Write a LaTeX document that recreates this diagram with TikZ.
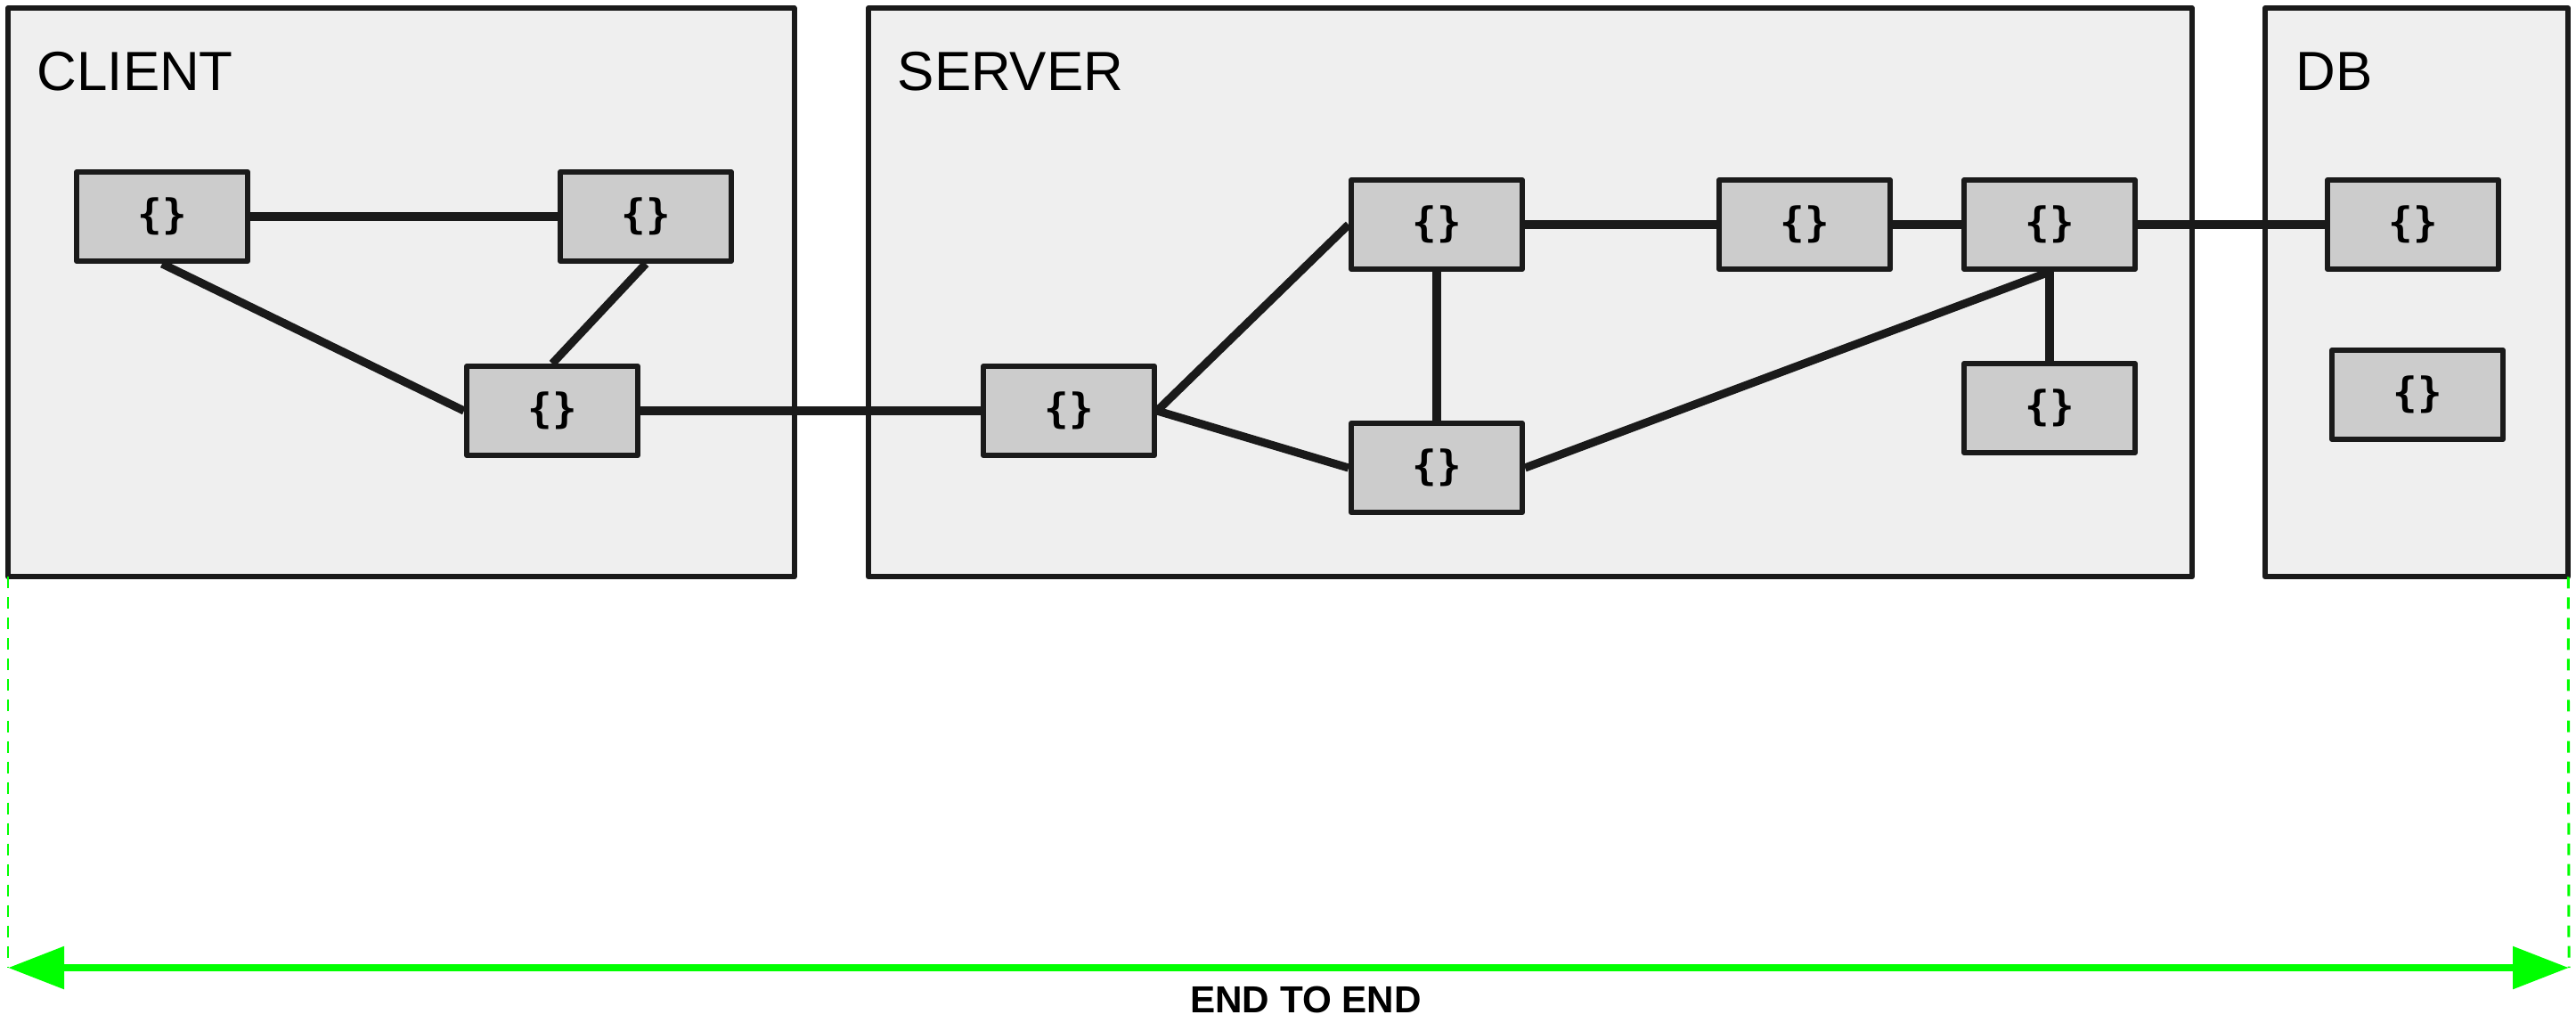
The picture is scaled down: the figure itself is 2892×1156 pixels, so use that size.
\documentclass[tikz,border=0pt]{standalone}
\usepackage{fontspec}
\setmainfont{Liberation Sans}
\setmonofont{DejaVu Sans Mono}
\usetikzlibrary{arrows.meta}

\definecolor{linec}{HTML}{1A1A1A}
\definecolor{zonefill}{HTML}{EFEFEF}
\definecolor{compfill}{HTML}{CCCCCC}
\definecolor{endgreen}{RGB}{0,255,0}

\begin{document}
\begin{tikzpicture}[x=0.01cm, y=-0.01cm,
  zone/.style={draw=linec, fill=zonefill, line width=1.7pt, line join=round,
    inner sep=0pt, outer sep=0pt, anchor=north west},
  comp/.style={draw=linec, fill=compfill, line width=1.7pt, line join=round,
    minimum width=1.92cm, minimum height=1.0cm, inner sep=0pt,
    font=\ttfamily\bfseries\fontsize{13}{13}\selectfont},
  link/.style={draw=linec, line width=2.6pt},
  zonelabel/.style={anchor=base west, inner sep=0pt,
    font=\fontsize{17.6}{18}\selectfont},
  guide/.style={draw=endgreen, line width=0.85pt, dash pattern=on 0.13cm off 0.10cm},
  span/.style={draw=endgreen, line width=2.5pt,
    {Triangle[length=0.63cm, width=0.46cm]}-{Triangle[length=0.63cm, width=0.46cm]}},
  spanlabel/.style={inner sep=0pt, font=\bfseries\fontsize{12}{12}\selectfont}]

\useasboundingbox (0,0) rectangle (2892,1156);

% tiers
\node[zone, minimum width=8.82cm, minimum height=6.38cm] (client) at (9,9) {};
\node[zone, minimum width=14.85cm, minimum height=6.38cm] (server) at (975,9) {};
\node[zone, minimum width=3.40cm, minimum height=6.38cm] (db) at (2543,9) {};

\node[zonelabel] (clientlbl) at (41,101) {CLIENT};
\node[zonelabel] (serverlbl) at (1007,101) {SERVER};
\node[zonelabel] (dblbl) at (2577,101) {DB};

% components
\node[comp] (c1) at (182,243) {\{\}};
\node[comp] (c2) at (725,243) {\{\}};
\node[comp] (c3) at (620,461) {\{\}};
\node[comp] (s1) at (1200,461) {\{\}};
\node[comp] (s2) at (1613,252) {\{\}};
\node[comp] (s3) at (1613,525) {\{\}};
\node[comp] (s4) at (2026,252) {\{\}};
\node[comp] (s5) at (2301,252) {\{\}};
\node[comp] (s6) at (2301,458) {\{\}};
\node[comp] (d1) at (2709,252) {\{\}};
\node[comp] (d2) at (2714,443) {\{\}};

% connections
\draw[link] (c1.east) -- (c2.west);
\draw[link] (c1.south) -- (c3.west);
\draw[link] (c2.south) -- (c3.north);
\draw[link] (c3.east) -- (s1.west);
\draw[link] (s1.east) -- (s2.west);
\draw[link] (s1.east) -- (s3.west);
\draw[link] (s2.south) -- (s3.north);
\draw[link] (s2.east) -- (s4.west);
\draw[link] (s4.east) -- (s5.west);
\draw[link] (s3.east) -- (s5.south);
\draw[link] (s5.south) -- (s6.north);
\draw[link] (s5.east) -- (d1.west);

% end-to-end span
\coordinate (lend) at (9,1086);
\coordinate (rend) at (2884,1086);
\draw[guide] (client.south west) -- (lend);
\draw[guide] (db.south east) -- (rend);
\draw[span] (lend) -- (rend);
\node[spanlabel] (spantext) at (1466,1122) {END TO END};
\end{tikzpicture}
\end{document}
